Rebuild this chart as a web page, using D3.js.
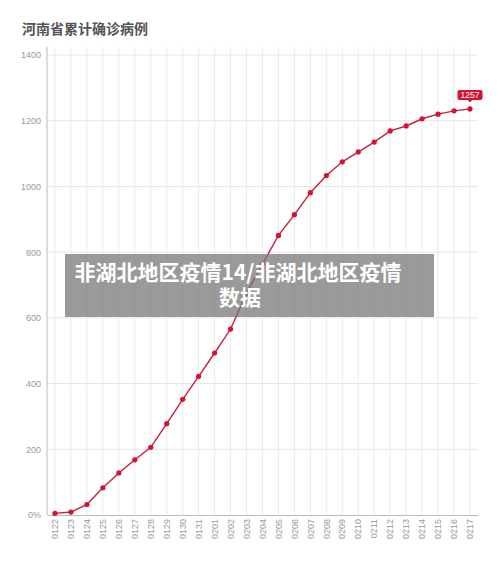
<!DOCTYPE html>
<html><head><meta charset="utf-8">
<script src="https://cdn.jsdelivr.net/npm/d3@7/dist/d3.min.js"></script>
<style>
html,body{margin:0;padding:0;background:#fff;}
svg{display:block;font-family:"Noto Sans CJK SC","Noto Sans",sans-serif;}
</style></head>
<body><svg id="c" width="500" height="572"></svg>
<script>
const categories = ["0122","0123","0124","0125","0126","0127","0128","0129","0130","0131","0201","0202","0203","0204","0205","0206","0207","0208","0209","0210","0211","0212","0213","0214","0215","0216","0217"];
const values = [5,9,32,83,128,168,206,278,352,422,493,566,675,764,851,914,981,1033,1075,1105,1135,1169,1184,1206,1220,1230,1236];
const yTicks = [0,200,400,600,800,1000,1200,1400];
const yTickLabels = ["0%","200","400","600","800","1000","1200","1400"];
const titleText = "河南省累计确诊病例";
const lastLabel = "1257";
const bannerLines = ["非湖北地区疫情14/非湖北地区疫情","数据"];

(function(){
const svg = d3.select("#c");
const pL = 47, pR = 478, pT = 55, pB = 515;

const x = d3.scaleBand().domain(categories).range([pL, pR]);
const y = d3.scaleLinear().domain([0,1400]).range([pB, pT]);
const cx = d => x(d) + x.bandwidth()/2;

svg.append("text").attr("x",22).attr("y",34).attr("font-size",14).attr("font-weight","bold")
  .attr("fill","#555").text(titleText);

svg.append("g").selectAll("line").data(yTicks.filter(t=>t>0)).join("line")
  .attr("x1",pL).attr("x2",pR).attr("y1",d=>y(d)).attr("y2",d=>y(d))
  .attr("stroke","#e6e6e6").attr("stroke-width",1);
svg.append("g").selectAll("line").data(categories).join("line")
  .attr("x1",d=>cx(d)).attr("x2",d=>cx(d)).attr("y1",pT-8).attr("y2",pB)
  .attr("stroke","#ececec").attr("stroke-width",1);

const yAxis = d3.axisLeft(y).tickValues(yTicks).tickSize(0).tickPadding(6)
  .tickFormat((d,i)=>yTickLabels[i]);
const gy = svg.append("g").attr("transform",`translate(${pL},0)`).call(yAxis);
gy.select(".domain").attr("stroke","#bbb").attr("d",`M0,${pT-8}V${pB}`);
gy.selectAll("text").attr("fill","#999").attr("font-size",9).attr("font-family","'Liberation Sans',Arial,sans-serif");

const xAxis = d3.axisBottom(x).tickSize(0).tickPadding(4);
const gx = svg.append("g").attr("transform",`translate(0,${pB})`).call(xAxis);
gx.select(".domain").attr("stroke","#bbb");
gx.selectAll("text").attr("fill","#999").attr("font-size",9)
  .attr("font-family","'Liberation Sans',Arial,sans-serif")
  .attr("text-anchor","end").attr("dy","0.35em")
  .attr("transform","translate(0,4) rotate(-90)").attr("x",0).attr("y",0);

const line = d3.line().x((d,i)=>cx(categories[i])).y(d=>y(d));
svg.append("path").datum(values).attr("d",line).attr("fill","none")
  .attr("stroke","#c82039").attr("stroke-width",1.4);
svg.append("g").selectAll("circle").data(values).join("circle")
  .attr("cx",(d,i)=>cx(categories[i])).attr("cy",d=>y(d)).attr("r",2.6)
  .attr("fill","#d4132f");

const lx = cx(categories[categories.length-1]), ly = y(values[values.length-1]);
const g = svg.append("g");
g.append("rect").attr("x",lx-12.5).attr("y",ly-19).attr("width",25).attr("height",10).attr("rx",2)
  .attr("fill","#d4132f");
g.append("path").attr("d",`M${lx-2.5},${ly-9.2}L${lx},${ly-6.5}L${lx+2.5},${ly-9.2}Z`).attr("fill","#d4132f");
g.append("text").attr("x",lx).attr("y",ly-11).attr("text-anchor","middle").attr("font-size",8.5)
  .attr("fill","#fff").attr("font-family","'Liberation Sans',Arial,sans-serif").text(lastLabel);

svg.append("rect").attr("x",65).attr("y",254).attr("width",369).attr("height",63)
  .attr("fill","rgba(115,115,115,0.72)");
svg.append("text").attr("x",238).attr("y",280).attr("text-anchor","middle").attr("font-size",21)
  .attr("font-weight","bold").attr("fill","#fff").text(bannerLines[0]);
svg.append("text").attr("x",240).attr("y",305).attr("text-anchor","middle").attr("font-size",21)
  .attr("font-weight","bold").attr("fill","#fff").text(bannerLines[1]);
})();
</script></body></html>
